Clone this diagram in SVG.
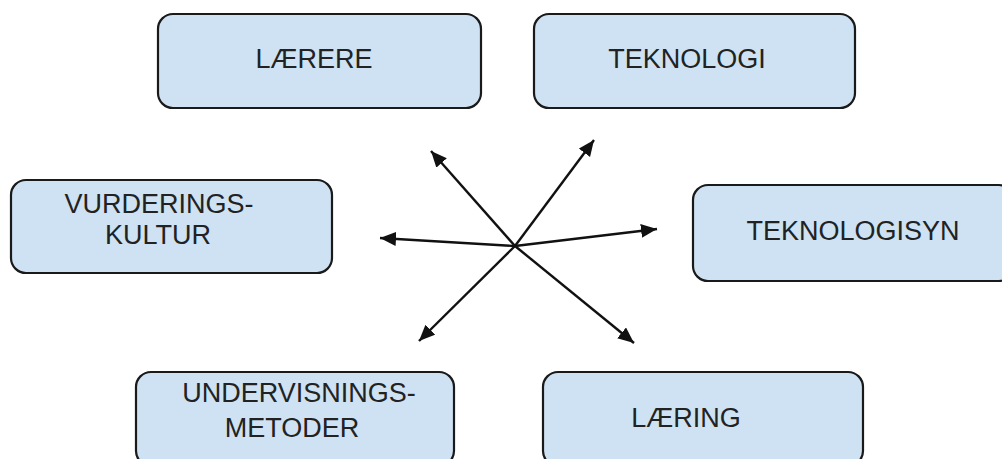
<svg xmlns="http://www.w3.org/2000/svg" width="1002" height="459" viewBox="0 0 1002 459">
  <style>
    .box { fill: #cfe2f3; stroke: #1a1a1a; stroke-width: 2.2; }
    .lbl { font-family: "Liberation Sans", Arial, sans-serif; font-size: 27px; fill: #222222; text-anchor: middle; }
    .conn { stroke: #111111; stroke-width: 2.4; fill: none; marker-end: url(#head); }
  </style>
  <defs>
    <marker id="head" markerUnits="userSpaceOnUse" markerWidth="18" markerHeight="16" refX="16" refY="7" orient="auto">
      <path d="M0,0 L16,7 L0,14 z" fill="#111111"/>
    </marker>
  </defs>
  <rect width="1002" height="459" fill="#ffffff"/>

  <g id="laerere">
    <rect class="box" x="158" y="14" width="323" height="94" rx="15"/>
    <text class="lbl" x="314" y="68">LÆRERE</text>
  </g>

  <g id="teknologi">
    <rect class="box" x="534" y="14" width="321" height="94" rx="15"/>
    <text class="lbl" x="687" y="68">TEKNOLOGI</text>
  </g>

  <g id="vurderingskultur">
    <rect class="box" x="11" y="180" width="321" height="93" rx="15"/>
    <text class="lbl" x="159" y="213">VURDERINGS-</text>
    <text class="lbl" x="158" y="244">KULTUR</text>
  </g>

  <g id="teknologisyn">
    <rect class="box" x="693" y="185" width="321" height="96" rx="15"/>
    <text class="lbl" x="853" y="240">TEKNOLOGISYN</text>
  </g>

  <g id="undervisningsmetoder">
    <rect class="box" x="136" y="372" width="318" height="94" rx="15"/>
    <text class="lbl" x="299" y="402">UNDERVISNINGS-</text>
    <text class="lbl" x="292" y="437">METODER</text>
  </g>

  <g id="laering">
    <rect class="box" x="543" y="372" width="320" height="94" rx="15"/>
    <text class="lbl" x="686" y="427">LÆRING</text>
  </g>

  <!-- six arrows radiating from a common centre -->
  <g id="connectors">
    <line class="conn" x1="515" y1="246" x2="431" y2="151"/>
    <line class="conn" x1="515" y1="246" x2="594" y2="140"/>
    <line class="conn" x1="515" y1="246" x2="657" y2="229"/>
    <line class="conn" x1="515" y1="246" x2="380" y2="238"/>
    <line class="conn" x1="515" y1="246" x2="419" y2="341"/>
    <line class="conn" x1="515" y1="246" x2="634" y2="343"/>
  </g>
</svg>
